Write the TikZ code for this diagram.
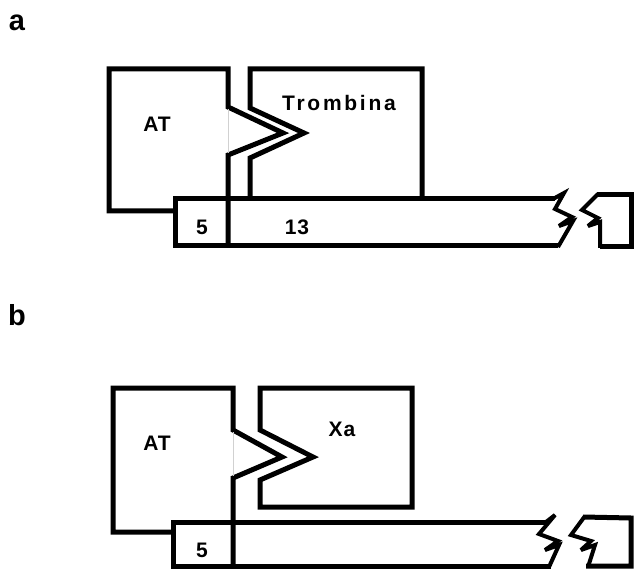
\documentclass[tikz,border=0pt]{standalone}
\usepackage{fontspec}
\setmainfont{Liberation Sans}
\newfontfamily\spacedfont[LetterSpace=4]{Liberation Sans}
\newfontfamily\widefont[LetterSpace=13]{Liberation Sans}
\begin{document}
\begin{tikzpicture}[x=1pt,y=-1pt,
  outline/.style={draw=black,line width=5pt,line join=miter,miter limit=6},
  bolt/.style={draw=black,line width=4pt,line join=miter,miter limit=4},
  hair/.style={draw=black!18,line width=0.6pt},
  boxtext/.style={inner sep=0pt,font=\spacedfont\bfseries\fontsize{21}{24}\selectfont},
  widetext/.style={inner sep=0pt,font=\widefont\bfseries\fontsize{21}{24}\selectfont},
  paneltext/.style={inner sep=0pt,font=\bfseries\fontsize{29}{32}\selectfont}]
\useasboundingbox (0,0) rectangle (634,569);
% ---------- panel a ----------
\node[paneltext] (la) at (17,23) {a};
% AT body with reactive loop
\draw[outline] (173,211) -- (109,211) -- (109,69) -- (228,69) -- (228,107)
  -- (283,133) -- (228,155) -- (228,247);
\draw[hair] (228,109) -- (228,153);
% Trombina with notch
\draw[outline] (250,199) -- (250,158) -- (304,133) -- (250,108) -- (250,69)
  -- (422,69) -- (422,199);
% heparin bar with break
\draw[outline] (555,199) -- (175,199) -- (175,246) -- (558,246);
\draw[bolt] (553,199) -- (564,193) -- (555,209) -- (572,217)
  -- (559,226) -- (573,221) -- (558,247);
\draw[outline] (597,195) -- (631,195) -- (631,247) -- (600,247);
\draw[bolt] (600,248) -- (600,222) -- (588,226) -- (598,218) -- (582,210) -- (598,194);
\node[boxtext] (ata) at (157,124) {AT};
\node[widetext] (tro) at (339,103) {Trombina};
\node[boxtext] (fivea) at (202,227) {5};
\node[boxtext] (thirteen) at (297,227) {13};
% ---------- panel b ----------
\node[paneltext] (lb) at (17,315) {b};
\draw[outline] (173,532) -- (113,532) -- (113,388) -- (233,388) -- (233,430)
  -- (282,457) -- (233,478) -- (233,567);
\draw[hair] (233,432) -- (233,476);
\draw[outline] (260,430) -- (313,457) -- (260,480) -- (260,507) -- (412,507)
  -- (412,388) -- (260,388) -- cycle;
\draw[outline] (549,522) -- (173,522) -- (173,566) -- (551,566);
\draw[bolt] (546,522) -- (555,515) -- (539,534) -- (558,541)
  -- (545,550) -- (559,545) -- (549,567);
\draw[outline] (583,517) -- (631,518) -- (631,566) -- (586,566);
\draw[bolt] (588,567) -- (595,545) -- (581,550) -- (591,541) -- (571,535) -- (585,516);
\node[boxtext] (atb) at (157,443) {AT};
\node[boxtext] (xa) at (342,429) {Xa};
\node[boxtext] (fiveb) at (202,550) {5};
\end{tikzpicture}
\end{document}
